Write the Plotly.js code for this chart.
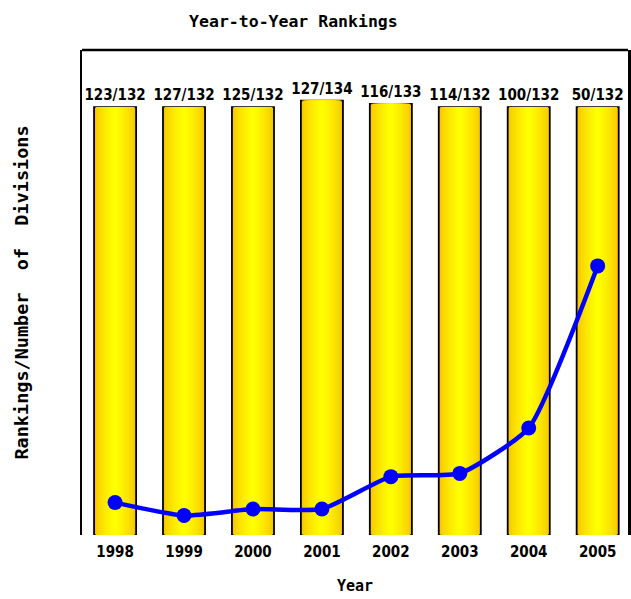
<!DOCTYPE html>
<html>
<head>
<meta charset="utf-8">
<script src="https://cdn.plot.ly/plotly-3.0.1.min.js"></script>
<style>html,body{margin:0;padding:0;background:#fff;}#chart{width:631px;height:599px;}</style>
</head>
<body>
<div id="chart"></div>
<script>
// Data
var years = ['1998', '1999', '2000', '2001', '2002', '2003', '2004', '2005'];
var divisions = [132, 132, 132, 134, 133, 132, 132, 132];
var ranks = [123, 127, 125, 127, 116, 114, 100, 50];
var lineValues = [10, 6, 8, 8, 18, 19, 33, 83];
var barLabels = ['123/132', '127/132', '125/132', '127/134', '116/133', '114/132', '100/132', '50/132'];

var condensed = '"DejaVu Sans Condensed", "Liberation Sans Narrow", "Arial Narrow", sans-serif';
var mono = '"DejaVu Sans Mono", "Liberation Mono", monospace';

var traces = [];
var N = 14;
var w0 = 0.61;
for (var i = 0; i < N; i++) {
  var t = i / (N - 1);
  var g = Math.round(192 + (255 - 192) * Math.pow(t, 0.65));
  var r = Math.round(248 + 7 * t);
  var tr = {
    type: 'bar',
    x: years,
    y: divisions,
    width: w0 * (1 - i / N),
    marker: {color: 'rgb(' + r + ',' + g + ',0)', line: {width: i === 0 ? 1.8 : 0, color: '#000'}},
    hoverinfo: 'skip',
    showlegend: false
  };
  if (i === 0) {
    tr.text = barLabels;
    tr.textposition = 'outside';
    tr.constraintext = 'none';
    tr.cliponaxis = false;
    tr.textfont = {family: condensed, size: 15, color: '#000', weight: 'bold'};
  }
  traces.push(tr);
}

traces.push({
  type: 'scatter',
  mode: 'lines+markers',
  x: years,
  y: lineValues,
  line: {color: '#0000ff', width: 4.5, shape: 'spline', smoothing: 0.5},
  marker: {color: '#0000ff', size: 15},
  hoverinfo: 'skip',
  showlegend: false,
  cliponaxis: false
});

var layout = {
  width: 631,
  height: 599,
  margin: {l: 82, r: 3, t: 50, b: 64},
  paper_bgcolor: '#fff',
  plot_bgcolor: '#fff',
  barmode: 'overlay',
  title: {
    text: 'Year-to-Year Rankings',
    x: 0.465, xref: 'container', xanchor: 'center',
    y: 0.965, yref: 'container', yanchor: 'middle',
    font: {family: mono, size: 16.5, color: '#000', weight: 'bold'}
  },
  xaxis: {
    type: 'category',
    range: [-0.48, 7.44],
    showgrid: false,
    zeroline: false,
    showline: false,
    ticks: '',
    tickfont: {family: condensed, size: 15, color: '#000', weight: 'bold'},
    ticklabelstandoff: 6,
    title: {text: 'Year', standoff: 20, font: {family: mono, size: 15, color: '#000', weight: 'bold'}}
  },
  yaxis: {
    range: [0, 149.6],
    showgrid: false,
    zeroline: false,
    showline: true,
    mirror: true,
    linewidth: 2.5,
    linecolor: '#000',
    showticklabels: false,
    ticks: '',
    title: {text: 'Rankings/Number  of  Divisions', standoff: 46, font: {family: mono, size: 18.5, color: '#000', weight: 'bold'}}
  },
  shapes: [{
    type: 'line', xref: 'paper', yref: 'paper', x0: 0, x1: 1, y0: 1, y1: 1,
    line: {color: '#000', width: 2.5}
  }]
};

Plotly.newPlot('chart', traces, layout, {displayModeBar: false, staticPlot: true});
</script>
</body>
</html>
